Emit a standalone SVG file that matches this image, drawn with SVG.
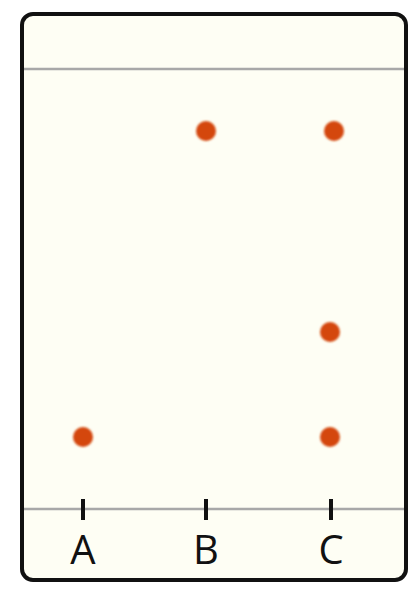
<svg xmlns="http://www.w3.org/2000/svg" width="414" height="589" viewBox="0 0 414 589">
<defs>
<style>
.plate{fill:#fefef4;stroke:#111;stroke-width:4}
.line{stroke:#a8a8a8;stroke-width:2.5;fill:none}
.tick{stroke:#111;stroke-width:4}
.spot{fill:#d4460c}
.lbl{font-family:"Open Sans","DejaVu Sans",sans-serif;font-size:40px;fill:#111;text-anchor:middle}
</style>
<filter id="blur" x="-50%" y="-50%" width="200%" height="200%"><feGaussianBlur stdDeviation="1"/></filter>
</defs>
<rect class="plate" x="22" y="14" width="384" height="566" rx="11"/>
<line class="line" x1="24" y1="69" x2="404" y2="69"/>
<line class="line" x1="24" y1="509" x2="404" y2="509"/>
<g id="laneA"><line class="tick" x1="83" y1="499" x2="83" y2="520"/><text class="lbl" x="83" y="564">A</text></g>
<g id="laneB"><line class="tick" x1="206" y1="499" x2="206" y2="520"/><text class="lbl" x="206" y="564">B</text></g>
<g id="laneC"><line class="tick" x1="331" y1="499" x2="331" y2="520"/><text class="lbl" x="331" y="564">C</text></g>
<g id="spots" filter="url(#blur)">
<circle class="spot" cx="206" cy="131" r="10"/>
<circle class="spot" cx="334" cy="131" r="10"/>
<circle class="spot" cx="330" cy="332" r="10"/>
<circle class="spot" cx="83" cy="437" r="10"/>
<circle class="spot" cx="330" cy="437" r="10"/>
</g>
</svg>
